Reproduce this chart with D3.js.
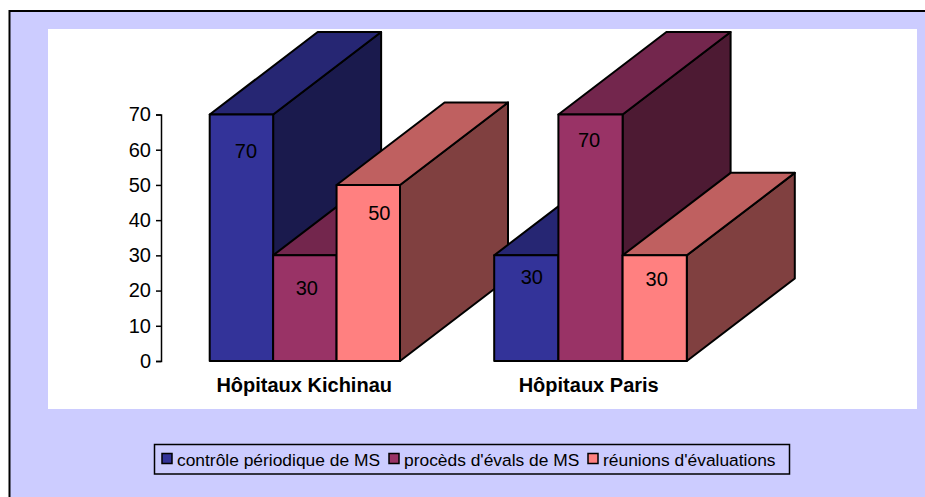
<!DOCTYPE html>
<html>
<head>
<meta charset="utf-8">
<script src="https://d3js.org/d3.v7.min.js"></script>
<style>
html, body { margin: 0; padding: 0; background: #fff; }
svg { display: block; }
text { font-family: "Liberation Sans", Arial, sans-serif; fill: #000; }
</style>
</head>
<body>
<div class="chartCont"></div>
<script>
var w = 925;
var h = 497;

const categories = ["Hôpitaux Kichinau", "Hôpitaux Paris"];
const seriesNames = ["contrôle périodique de MS", "procèds d'évals de MS", "réunions d'évaluations"];
const kichinau = [70, 30, 50];
const paris = [30, 70, 30];
const yTicks = [0, 10, 20, 30, 40, 50, 60, 70];

// the labels sit at hand placed spots in the original, offset from the bar top centre
const kichinauLabelDx = [4.5, 2, 11];
const kichinauLabelDy = [43.5, 40, 35];
const parisLabelDx = [5.5, -1.5, 2];
const parisLabelDy = [29, 32.5, 31];

const front = ["#333399", "#993366", "#ff8080"];
const topFace = ["#262673", "#73264d", "#bf6060"];
const sideFace = ["#1a1a4d", "#4d1a33", "#804040"];

var svg = d3.select(".chartCont").append("svg")
    .attr("width", w)
    .attr("height", h);

// outer frame runs off the right and bottom of the picture
svg.append("rect")
    .attr("x", 9.5)
    .attr("y", 11)
    .attr("width", w)
    .attr("height", h)
    .attr("fill", "#ccccff")
    .attr("stroke", "#000")
    .attr("stroke-width", 2);

svg.append("rect")
    .attr("x", 48)
    .attr("y", 29)
    .attr("width", 869)
    .attr("height", 380)
    .attr("fill", "#fff");

const y = d3.scaleLinear()
    .domain([0, 70])
    .range([361, 114.5]);

// 3D extrusion of each bar
const depthX = 108;
const depthY = -82.5;

const clusters = d3.scaleBand()
    .domain(categories)
    .range([209.7, 209.7 + 2 * 284.5]);

const clusterW = [190.3, 192.6];

const table = categories.map((c, i) => ({
    category: c,
    values: i == 0 ? kichinau : paris,
    barW: clusterW[i] / 3,
    dx: i == 0 ? kichinauLabelDx : parisLabelDx,
    dy: i == 0 ? kichinauLabelDy : parisLabelDy
}));

table.forEach((d) => {
    const barW = d.barW;
    const barX = (j) => clusters(d.category) + j * barW;

    const g = svg.append("g");
    const bars = g.selectAll("g")
        .data(d.values)
        .enter()
        .append("g")
        .attr("stroke", "#000")
        .attr("stroke-width", 2)
        .attr("stroke-linejoin", "round");

    bars.append("path")
        .attr("fill", (v, j) => sideFace[j])
        .attr("d", (v, j) => {
            const x1 = barX(j) + barW;
            return "M" + x1 + "," + y(v) + "l" + depthX + "," + depthY + "V" + (y(0) + depthY) + "L" + x1 + "," + y(0) + "Z";
        });

    bars.append("path")
        .attr("fill", (v, j) => topFace[j])
        .attr("d", (v, j) => {
            return "M" + barX(j) + "," + y(v) + "l" + depthX + "," + depthY + "h" + barW + "l" + (-depthX) + "," + (-depthY) + "Z";
        });

    bars.append("rect")
        .attr("fill", (v, j) => front[j])
        .attr("x", (v, j) => barX(j))
        .attr("y", (v) => y(v))
        .attr("width", barW)
        .attr("height", (v) => y(0) - y(v));

    g.selectAll("text")
        .data(d.values)
        .enter()
        .append("text")
        .attr("x", (v, j) => barX(j) + barW / 2 + d.dx[j])
        .attr("y", (v, j) => y(v) + d.dy[j])
        .attr("text-anchor", "middle")
        .attr("font-size", 20)
        .text((v) => v);

    svg.append("text")
        .attr("x", clusters(d.category) + 94.5)
        .attr("y", 392)
        .attr("text-anchor", "middle")
        .attr("font-size", 20)
        .attr("font-weight", "bold")
        .text(d.category);
});

const yAxis = d3.axisLeft(y)
    .tickValues(yTicks)
    .tickSize(5)
    .tickPadding(5);

const axisG = svg.append("g")
    .attr("transform", "translate(161,0)")
    .call(yAxis);

axisG.selectAll("path, line")
    .attr("stroke", "#000")
    .attr("stroke-width", 1.5);

axisG.selectAll("text")
    .attr("font-family", "Liberation Sans")
    .attr("font-size", 20);

// legend
const legend = svg.append("g");

legend.append("rect")
    .attr("x", 154.5)
    .attr("y", 444.5)
    .attr("width", 635)
    .attr("height", 29.5)
    .attr("fill", "none")
    .attr("stroke", "#000")
    .attr("stroke-width", 1.5);

const legendX = d3.scaleOrdinal()
    .domain(seriesNames)
    .range([162, 389, 588]);

legend.selectAll("rect.swatch")
    .data(seriesNames)
    .enter()
    .append("rect")
    .attr("class", "swatch")
    .attr("x", (d) => legendX(d))
    .attr("y", 453.5)
    .attr("width", 10)
    .attr("height", 10)
    .attr("fill", (d, i) => front[i])
    .attr("stroke", "#000")
    .attr("stroke-width", 1.5);

legend.selectAll("text")
    .data(seriesNames)
    .enter()
    .append("text")
    .attr("x", (d) => legendX(d) + 15)
    .attr("y", 465.5)
    .attr("font-size", 17.4)
    .text((d) => d);
</script>
</body>
</html>
